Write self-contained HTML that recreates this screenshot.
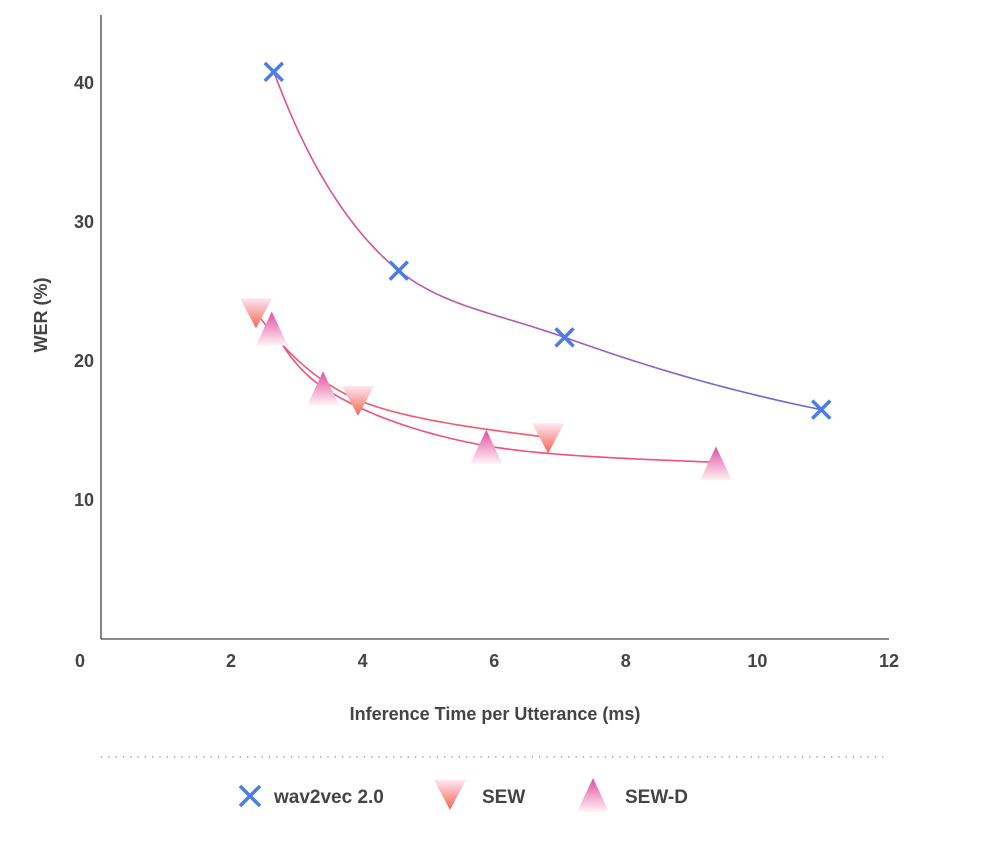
<!DOCTYPE html>
<html><head><meta charset="utf-8"><style>
body{margin:0;background:#fff;font-family:"Liberation Sans",Arial,sans-serif}
svg text{font-family:"Liberation Sans",Arial,sans-serif;font-weight:bold;fill:#444}
</style></head><body>
<svg id="chart" width="984" height="844" viewBox="0 0 984 844" xmlns="http://www.w3.org/2000/svg">
<defs>
<linearGradient id="gw" x1="0" y1="0" x2="1" y2="0"><stop offset="0" stop-color="#ee4a8c"/><stop offset="1" stop-color="#5a6fe0"/></linearGradient>
<linearGradient id="gsew" x1="0" y1="0" x2="0" y2="1"><stop offset="0" stop-color="#fde6f3"/><stop offset="1" stop-color="#f76450"/></linearGradient>
<linearGradient id="gsewd" x1="0" y1="0" x2="0" y2="1"><stop offset="0" stop-color="#e04ca0"/><stop offset="1" stop-color="#fff4f4"/></linearGradient>
</defs>
<g id="axes"></g>
<g id="lines"></g>
<g id="marks"></g>
<g id="legend"></g>
</svg>
<script>
const xTicks=[0,2,4,6,8,10,12];
const yTicks=[10,20,30,40];
const w2vX=[2.65,4.55,7.07,10.97];
const w2vY=[40.8,26.5,21.7,16.5];
const sewX=[2.38,3.93,6.82];
const sewY=[23.5,17.2,14.5];
const sewdX=[2.62,3.40,5.88,9.37];
const sewdY=[22.4,18.1,13.9,12.7];
const NS="http://www.w3.org/2000/svg";
const X=v=>99.4+v*65.8, Y=v=>639-v*13.9;
function mk(t,a,p){const e=document.createElementNS(NS,t);for(const k in a)e.setAttribute(k,a[k]);p.appendChild(e);return e;}
const axes=document.getElementById('axes');
let e=mk('line',{x1:101,y1:15,x2:101,y2:639,stroke:'#444','stroke-width':1.3},axes);

e=mk('line',{x1:101,y1:639,x2:889,y2:639,stroke:'#444','stroke-width':1.3},axes);

xTicks.forEach(v=>{const t=mk('text',{x:v===0?80:X(v),y:667,'text-anchor':'middle','font-size':18},axes);t.textContent=v;
});
yTicks.forEach(v=>{const t=mk('text',{x:94,y:Y(v)+6,'text-anchor':'end','font-size':18},axes);t.textContent=v;
});
e=mk('text',{x:495,y:720,'text-anchor':'middle','font-size':18},axes);e.textContent='Inference Time per Utterance (ms)';

e=mk('text',{x:47,y:315,'text-anchor':'middle','font-size':18,transform:'rotate(-90 47 315)'},axes);e.textContent='WER (%)';

e=mk('line',{x1:101,y1:757,x2:889,y2:757,stroke:'#888','stroke-width':1.3,'stroke-dasharray':'1.3 6'},axes);

function curve(xs,ys){
  const p=xs.map((x,i)=>[Math.log(x),Math.log(ys[i])]);
  let pts=[];
  for(let i=0;i<p.length-1;i++){const p0=p[Math.max(i-1,0)],p1=p[i],p2=p[i+1],p3=p[Math.min(i+2,p.length-1)];
    const c1=[p1[0]+(p2[0]-p0[0])/6,p1[1]+(p2[1]-p0[1])/6],c2=[p2[0]-(p3[0]-p1[0])/6,p2[1]-(p3[1]-p1[1])/6];
    for(let s=0;s<=40;s++){const t=s/40,u=1-t;
      const lx=u*u*u*p1[0]+3*u*u*t*c1[0]+3*u*t*t*c2[0]+t*t*t*p2[0];
      const ly=u*u*u*p1[1]+3*u*u*t*c1[1]+3*u*t*t*c2[1]+t*t*t*p2[1];
      pts.push([X(Math.exp(lx)).toFixed(2),Y(Math.exp(ly)).toFixed(2)]);}}
  return 'M'+pts.map(q=>q.join(',')).join(' L');}
const lines=document.getElementById('lines');
e=mk('path',{d:curve(w2vX,w2vY),fill:'none',stroke:'url(#gw)','stroke-width':1.6},lines);

e=mk('path',{d:curve(sewX,sewY),fill:'none',stroke:'#f45a6a','stroke-width':1.6},lines);

e=mk('path',{d:curve(sewdX,sewdY),fill:'none',stroke:'#f0507a','stroke-width':1.6},lines);

const marks=document.getElementById('marks');
function cross(cx,cy,p,s){const g=mk('g',{stroke:'#4a7ee6','stroke-width':3.5},p);
mk('line',{x1:cx-s,y1:cy-s,x2:cx+s,y2:cy+s},g);mk('line',{x1:cx-s,y1:cy+s,x2:cx+s,y2:cy-s},g);return g;}
function down(cx,cy,p){return mk('polygon',{points:`${cx-16},${cy-14} ${cx+16},${cy-14} ${cx},${cy+16}`,fill:'url(#gsew)'},p);}
function up(cx,cy,p){return mk('polygon',{points:`${cx},${cy-16} ${cx+16},${cy+18} ${cx-16},${cy+18}`,fill:'url(#gsewd)'},p);}
sewX.forEach((x,i)=>{const m=down(X(x),Y(sewY[i]),marks);});
sewdX.forEach((x,i)=>{const m=up(X(x),Y(sewdY[i]),marks);});
w2vX.forEach((x,i)=>{const m=cross(X(x),Y(w2vY[i]),marks,9);});
const lg=document.getElementById('legend');
let g=cross(250,796,lg,10);
e=mk('text',{x:274,y:803,'font-size':19},lg);e.textContent='wav2vec 2.0';
g=down(450,794,lg);
e=mk('text',{x:482,y:803,'font-size':19},lg);e.textContent='SEW';
g=up(593,794,lg);
e=mk('text',{x:625,y:803,'font-size':19},lg);e.textContent='SEW-D';
</script>
</body></html>
